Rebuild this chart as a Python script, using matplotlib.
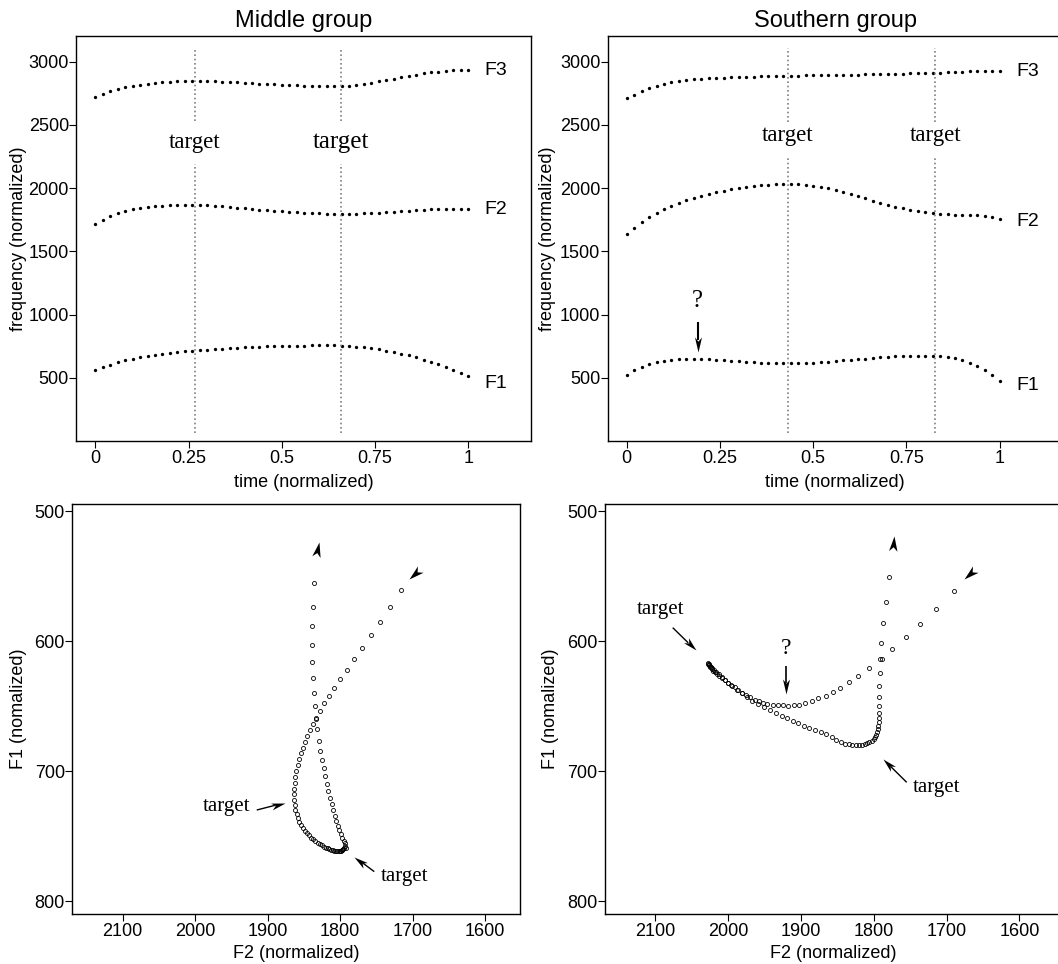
import numpy as np
import matplotlib
matplotlib.use("Agg")
import matplotlib.pyplot as plt
from matplotlib.path import Path
from matplotlib.markers import MarkerStyle
from matplotlib.transforms import Affine2D

plt.rcParams["font.family"] = ["Liberation Sans", "DejaVu Sans"]
SERIF = "Liberation Serif"

# ── formant tracks, 51 samples over normalized time ──────────────────────────
TIME = np.linspace(0, 1, 51)

MID_F1 = [561, 582, 603, 621, 638, 652, 664, 674, 683, 691,
          698, 704, 709, 714, 719, 723, 727, 731, 735, 738,
          741, 743, 746, 748, 750, 752, 753, 754, 755, 756,
          756, 756, 756, 754, 751, 746, 740, 733, 724, 714,
          703, 690, 677, 661, 643, 624, 606, 585, 561, 537, 513]
MID_F2 = [1716, 1748, 1776, 1800, 1818, 1832, 1843, 1851, 1857, 1861,
          1864, 1866, 1866, 1866, 1865, 1863, 1860, 1856, 1851, 1846,
          1841, 1836, 1831, 1826, 1822, 1818, 1814, 1810, 1807, 1804,
          1801, 1799, 1798, 1798, 1798, 1799, 1801, 1804, 1807, 1811,
          1815, 1819, 1822, 1826, 1829, 1832, 1835, 1837, 1838, 1836, 1832]
MID_F3 = [2723, 2747, 2768, 2785, 2799, 2810, 2819, 2826, 2832, 2837,
          2841, 2844, 2846, 2847, 2847, 2846, 2844, 2842, 2839, 2837,
          2834, 2831, 2827, 2824, 2821, 2818, 2815, 2813, 2810, 2808,
          2807, 2806, 2806, 2808, 2812, 2818, 2826, 2835, 2844, 2854,
          2865, 2876, 2887, 2897, 2907, 2915, 2922, 2927, 2931, 2933, 2934]

SOU_F1 = [521, 559, 589, 611, 626, 636, 642, 646, 648, 648,
          647, 645, 643, 640, 636, 632, 628, 624, 620, 617,
          615, 614, 614, 615, 617, 620, 623, 627, 632, 637,
          642, 647, 652, 657, 662, 666, 669, 672, 674, 675,
          675, 674, 671, 664, 653, 637, 616, 590, 558, 521, 474]
SOU_F2 = [1637, 1688, 1734, 1772, 1804, 1833, 1859, 1882, 1903, 1921,
          1938, 1953, 1967, 1979, 1990, 2000, 2009, 2016, 2022, 2027,
          2030, 2032, 2032, 2030, 2025, 2018, 2009, 1998, 1985, 1970,
          1954, 1937, 1919, 1901, 1884, 1868, 1853, 1840, 1828, 1818,
          1810, 1803, 1798, 1794, 1791, 1789, 1787, 1784, 1779, 1771, 1758]
SOU_F3 = [2710, 2736, 2766, 2790, 2810, 2826, 2838, 2847, 2854, 2860,
          2865, 2868, 2871, 2873, 2876, 2878, 2880, 2882, 2884, 2886,
          2887, 2889, 2890, 2891, 2892, 2893, 2894, 2895, 2896, 2897,
          2898, 2899, 2900, 2901, 2902, 2903, 2904, 2905, 2907, 2908,
          2910, 2912, 2914, 2917, 2920, 2922, 2924, 2926, 2927, 2928, 2929]

MID_TARGETS = [0.2665, 0.658]
SOU_TARGETS = [0.432, 0.827]

# ── F1 x F2 trajectories (finer time sampling) ───────────────────────────────
MID_TRAJ_F2 = [1716, 1731, 1745, 1758, 1770, 1781, 1791, 1800, 1808, 1815, 1822, 1828, 1833,
               1838, 1842, 1845.7, 1849, 1851.8, 1854.4, 1856.7, 1858.6, 1860.3, 1861.7, 1862.6, 1863.1,
               1863.3, 1863.1, 1862.5, 1861.5, 1860, 1858.2, 1856, 1853.6, 1851, 1848.3,
               1845.5, 1842.7, 1839.8, 1836.9, 1834, 1831.1, 1828.2, 1825.4, 1822.6, 1819.9,
               1817.3, 1814.8, 1812.4, 1810.1, 1807.9, 1805.8, 1803.9, 1802.1, 1800.5, 1799.1,
               1797.8, 1796.7, 1795.7, 1794.8,
               1792, 1792.5, 1793.5, 1795, 1796.8, 1798.8, 1800.8, 1802.8, 1805, 1807.2,
               1809.4, 1811.6, 1813.8, 1816, 1818.2, 1820.5, 1822.8, 1825, 1827.2, 1829.4,
               1831.4, 1833.2, 1834.8, 1836.4, 1837.5, 1838.3, 1838.8, 1838.5, 1837.5, 1835.5]
MID_TRAJ_F1 = [561, 574, 585, 595, 605, 614, 622, 629, 636, 642, 648, 654, 660,
               664, 668.5, 673, 677.5, 682, 686.5, 691, 695.5, 700, 704.5, 709, 713.5,
               718, 722, 726, 729.7, 733.2, 736.3, 739.1, 741.6, 743.9, 746,
               747.9, 749.6, 751.2, 752.6, 753.9, 755.1, 756.2, 757.2, 758.1, 758.9,
               759.6, 760.2, 760.7, 761.1, 761.4, 761.6, 761.7, 761.7, 761.6, 761.4,
               761.1, 760.7, 760.2, 759.6,
               758.9, 757.4, 755.6, 753.5, 751.2, 748.4, 745.3, 742, 738.2, 734.3,
               730, 725.4, 720.5, 715.3, 710, 703.8, 697.9, 691.5, 684.3, 676.6,
               667.9, 659.5, 650, 640.2, 628.7, 616.4, 603, 588.4, 573.6, 555.1]

SOU_TRAJ_F2 = [1690, 1714, 1736, 1756, 1774.6, 1788, 1806, 1821, 1834.6, 1846, 1856,
               1865, 1876, 1885, 1894, 1902, 1910, 1918, 1925, 1932, 1939, 1946, 1952, 1958, 1963, 1970,
               1975, 1980.5, 1986, 1991, 1996, 2000.5, 2004.5, 2008.5, 2012,
               2015, 2018, 2020.5, 2022.5, 2024.2, 2025.5, 2026.5, 2027.2, 2027.6,
               2026.8, 2025.6, 2024, 2022, 2019.5, 2016.5, 2013, 2009, 2004.5, 1999.5,
               1994, 1988, 1981.5, 1974.5, 1967, 1959, 1951, 1942.5, 1934, 1926.4,
               1918.6, 1911.3, 1903.5, 1895.7, 1888.4, 1880.6, 1872.8, 1865.5, 1857.6, 1851.2,
               1845.6, 1840, 1834.6, 1829.6, 1824.5, 1820, 1815.8, 1812.2, 1809, 1805.8,
               1803, 1800.3, 1798, 1796.2, 1795, 1794.2, 1793.7, 1793.4, 1793.3, 1793.2,
               1793, 1792.7, 1792.3, 1791.7, 1791.5, 1789.5, 1787, 1783.5, 1779.5]
SOU_TRAJ_F1 = [561.5, 575.4, 586.9, 597.2, 606.4, 614, 620.5, 626.9, 631.8, 635.9, 639.3,
               642.3, 644.1, 646.2, 648, 649, 649.5, 649.8, 649.5, 649.5, 649.3, 648.5, 647.5, 646.4, 645.2, 643.4,
               641.5, 639.6, 637.6, 635.7, 633.8, 632, 630.3, 628.6, 627,
               625.5, 624, 622.7, 621.4, 620.2, 619.2, 618.3, 617.6, 617.1,
               617.8, 618.6, 619.6, 620.8, 622.2, 623.8, 625.6, 627.6, 629.8, 632.2,
               634.8, 637.5, 640.3, 643.1, 645.8, 648.5, 651, 653.2, 655.7, 657.7,
               659.5, 661.6, 663.4, 665.2, 666.7, 668.2, 669.8, 671.6, 674, 676.2,
               678, 679, 679.5, 679.8, 680, 680, 679.7, 679.2, 678.5, 677.7,
               676.7, 675.4, 673.8, 672, 670, 667.7, 665.1, 662.3, 659, 655,
               649.7, 642.8, 634.6, 624.9, 614.1, 601.5, 586.2, 570, 551]

# ── layout in pixels ─────────────────────────────────────────────────────────
W, H = 1058, 964
fig = plt.figure(figsize=(W / 100, H / 100), dpi=100)


def axes_px(left, top, right, bottom):
    return fig.add_axes([left / W, 1 - bottom / H, (right - left) / W, (bottom - top) / H])


def arrow(ax, tail, tip, head=15, width=8, lw=1.0, shaft=True):
    """Notched ('stealth') arrow head at tip, optional straight shaft from tail."""
    p0 = ax.transData.transform(tail)
    p1 = ax.transData.transform(tip)
    d = p1 - p0
    u = d / np.hypot(*d)
    theta = np.arctan2(d[1], d[0])
    hw = 0.5 * width / head
    verts = [(0, 0), (-1, hw), (-0.72, 0), (-1, -hw), (0, 0)]
    codes = [Path.MOVETO, Path.LINETO, Path.LINETO, Path.LINETO, Path.CLOSEPOLY]
    mk = MarkerStyle(Path(verts, codes), transform=Affine2D().rotate(theta))
    ms = 2 * head * 72 / fig.dpi
    if shaft:
        end = ax.transData.inverted().transform(p1 - u * head * 0.75)
        ax.plot([tail[0], end[0]], [tail[1], end[1]], color="black", lw=lw,
                solid_capstyle="butt")
    ax.plot([tip[0]], [tip[1]], marker=mk, ms=ms, color="black", mew=0,
            linestyle="none")


def common_ticks(ax):
    ax.tick_params(direction="out", length=4.8, width=0.8, labelsize=13, color="black")
    ax.tick_params(axis="y", pad=0.5)
    ax.tick_params(axis="x", pad=2)
    for s in ax.spines.values():
        s.set_linewidth(1.0)


def time_panel(ax, title, tracks, targets, label_y, label_sizes, gap, flabel_y):
    for f in tracks:
        ax.plot(TIME, f, "o", ms=2.4, color="black", mec="none")
    for x, size in zip(targets, label_sizes):
        # dotted marker line, broken where the label sits
        ax.vlines([x, x], [60, gap[1]], [gap[0], 3105], colors="#808080",
                  linestyles=[(0, (1, 1.6))], lw=1.2)
        ax.text(x, label_y, "target", family=SERIF, fontsize=size,
                ha="center", va="center")
    for name, y in zip(["F1", "F2", "F3"], flabel_y):
        ax.text(1.074, y, name, fontsize=14, ha="center", va="center")
    ax.set_xlim(-0.051, 1.168)
    ax.set_ylim(0, 3206)
    ax.set_xticks([0, 0.25, 0.5, 0.75, 1])
    ax.set_xticklabels(["0", "0.25", "0.5", "0.75", "1"])
    ax.set_yticks([500, 1000, 1500, 2000, 2500, 3000])
    common_ticks(ax)
    ax.set_title(title, fontsize=17, pad=6)
    ax.set_xlabel("time (normalized)", fontsize=13)
    ax.set_ylabel("frequency (normalized)", fontsize=13)


def vowel_panel(ax, f2, f1, xright):
    ax.plot(f2, f1, "o", ms=2.9, mfc="none", mec="black", mew=0.6)
    ax.set_xlim(2169.5, xright)
    ax.set_ylim(810, 494.8)
    ax.set_xticks([2100, 2000, 1900, 1800, 1700, 1600])
    ax.set_yticks([500, 600, 700, 800])
    common_ticks(ax)
    ax.set_xlabel("F2 (normalized)", fontsize=13)
    ax.set_ylabel("F1 (nomalized)", fontsize=13)


ax_tl = axes_px(76.3, 35.7, 531, 441)
ax_tr = axes_px(607.7, 35.7, 1062.4, 441)
ax_bl = axes_px(72.3, 504.3, 520, 914)
ax_br = axes_px(604.7, 504.3, 1062, 914)

# top row: formant tracks
time_panel(ax_tl, "Middle group", (MID_F1, MID_F2, MID_F3), MID_TARGETS,
           2362, (16.5, 18), (2190, 2533), (455, 1829, 2934))
time_panel(ax_tr, "Southern group", (SOU_F1, SOU_F2, SOU_F3), SOU_TARGETS,
           2420, (16.5, 16.5), (2245, 2525), (437, 1734, 2921))

# bottom row: F1 x F2 plane
vowel_panel(ax_bl, MID_TRAJ_F2, MID_TRAJ_F1, 1551.7)
vowel_panel(ax_br, SOU_TRAJ_F2, SOU_TRAJ_F1, 1541.4)

# annotations (limits are fixed now, so arrow angles come out right)
ax_tr.text(0.19, 1107, "?", family=SERIF, fontsize=18, ha="center", va="center")
arrow(ax_tr, (0.19, 943), (0.19, 706), head=15, width=7, lw=1.5)

arrow(ax_bl, (1687, 544), (1704.5, 552.6), head=15, width=8.5, shaft=False)
arrow(ax_bl, (1833, 535.5), (1828.5, 523.5), head=15, width=8.5, shaft=False)
ax_bl.text(1956.5, 727.5, "target", family=SERIF, fontsize=15, ha="center", va="center")
arrow(ax_bl, (1915, 730), (1876, 724.4), head=14, width=7, lw=1.0)
ax_bl.text(1710.5, 781.3, "target", family=SERIF, fontsize=15, ha="center", va="center")
arrow(ax_bl, (1752.8, 777.4), (1780.4, 765.9), head=14, width=7, lw=1.0)

arrow(ax_br, (1657.1, 543.3), (1675.5, 552.3), head=15, width=8.5, shaft=False)
arrow(ax_br, (1773.5, 533), (1771.5, 519.5), head=15, width=8.5, shaft=False)
ax_br.text(2093.5, 576.1, "target", family=SERIF, fontsize=15, ha="center", va="center")
arrow(ax_br, (2076.1, 589.7), (2044.5, 607), head=14, width=7, lw=1.0)
ax_br.text(1920, 606, "?", family=SERIF, fontsize=17, ha="center", va="center")
arrow(ax_br, (1920, 619), (1920, 641), head=15, width=7, lw=1.2)
ax_br.text(1713.5, 712.6, "target", family=SERIF, fontsize=15, ha="center", va="center")
arrow(ax_br, (1754.7, 708.7), (1786.7, 691), head=14, width=7, lw=1.0)

# axis label placement
for ax, xl, yl in [(ax_tl, -0.081, -0.109), (ax_tr, -0.081, -0.114),
                   (ax_bl, -0.076, -0.101), (ax_br, -0.076, -0.101)]:
    ax.xaxis.set_label_coords(0.5, xl)
    ax.yaxis.set_label_coords(yl, 0.5)

fig.savefig("out.png", dpi=100)
